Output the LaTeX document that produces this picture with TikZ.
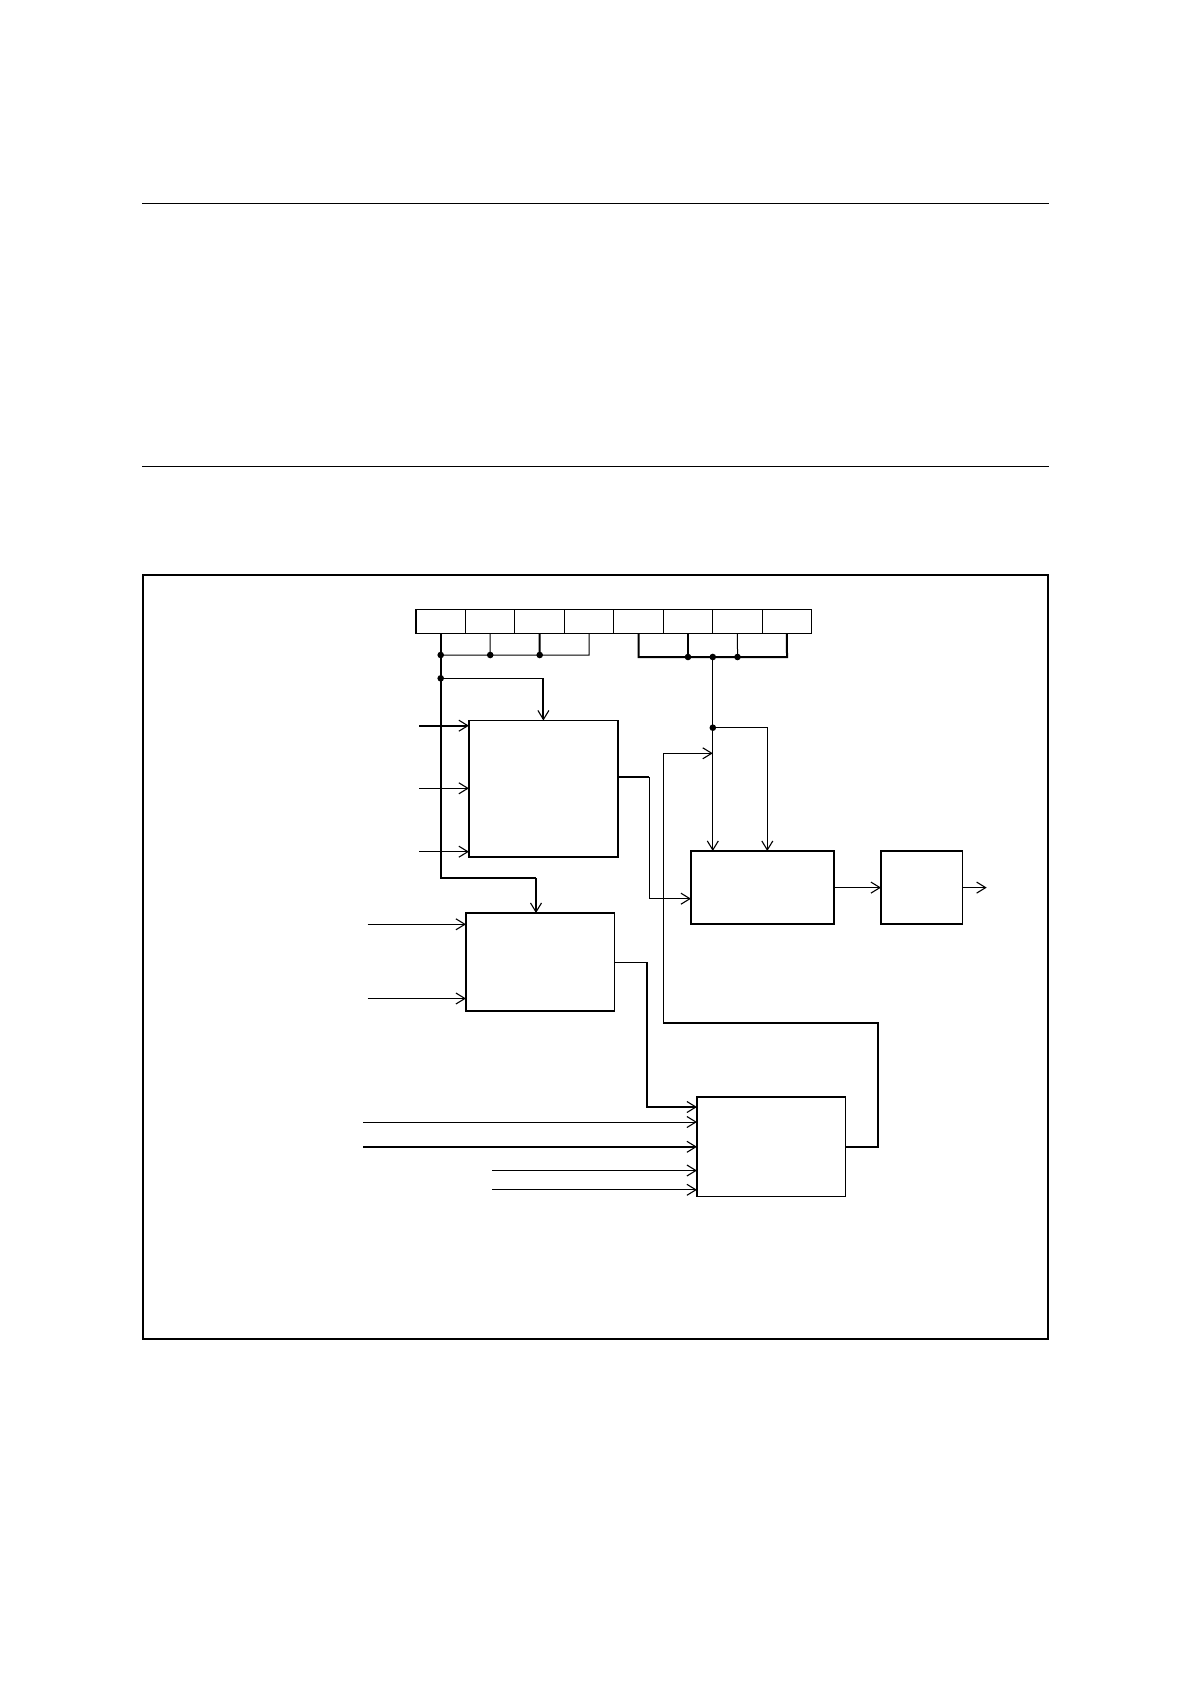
\documentclass[tikz,border=0pt]{standalone}
\usetikzlibrary{arrows.meta}
\begin{document}
\begin{tikzpicture}[x=0.5pt,y=-0.5pt,line width=0.5pt]
\tikzstyle{blk}=[draw,rectangle,line width=0.8pt,inner sep=0pt,outer sep=0pt]
\tikzstyle{cell}=[draw,rectangle,line width=0.55pt,inner sep=0pt,outer sep=0pt,minimum width=24.73pt,minimum height=12.15pt]
\tikzstyle{dot}=[circle,fill=black,inner sep=0pt,minimum size=3.3pt]
\tikzstyle{bus}=[line width=1pt]
\tikzset{>={Straight Barb[length=4.5pt,width=5.5pt,line width=0.55pt]}}
\useasboundingbox (0,0) rectangle (1190,1684);
% rules and frame
\draw (142,204) -- (1049,204);
\draw (142,466) -- (1049,466);
\draw[line width=0.9pt] (143,575) rectangle (1048,1339);
% register
\foreach \i in {0,...,7} \node[cell] (r\i) at ({440.7+49.46*\i},621.2) {};
% blocks
\node[blk,minimum width=74.5pt,minimum height=68.1pt] (b1) at (543.4,788.6) {};
\node[blk,minimum width=74.25pt,minimum height=49.1pt] (b2) at (540.2,962.1) {};
\node[blk,minimum width=71.5pt,minimum height=36.6pt] (b3) at (762.5,887.6) {};
\node[blk,minimum width=40.8pt,minimum height=36.6pt] (b4) at (921.8,887.6) {};
\node[blk,minimum width=74.25pt,minimum height=49.55pt] (b5) at (771.2,1146.8) {};
% junctions and bends
\coordinate (t0) at (440.7,655);
\coordinate (t1) at (490.2,655);
\coordinate (t2) at (539.7,655);
\coordinate (t3) at (589.1,655);
\coordinate (u4) at (638.6,657);
\coordinate (u5) at (688,657);
\coordinate (jR) at (712.8,657);
\coordinate (u6) at (737.5,657);
\coordinate (u7) at (787,657);
\coordinate (dL) at (440.7,678.3);
\coordinate (kL) at (440.7,878.3);
\coordinate (kL2) at (536,878.3);
\coordinate (dR) at (712.8,727.7);
\coordinate (kR) at (767.3,727.7);
\coordinate (o1) at (619.3,777);
\coordinate (k1) at (649.3,777);
\coordinate (k2) at (649.3,898.7);
\coordinate (o4) at (986.7,887.6);
\coordinate (k4) at (878,1022.7);
\coordinate (k5) at (663.3,1022.7);
\coordinate (k6) at (646.7,1107);
\coordinate (k7) at (663.3,753.3);
% inputs
\coordinate (i1) at (419,725.7);
\coordinate (i2) at (419,788.3);
\coordinate (i3) at (419,851.7);
\coordinate (i4) at (367.6,924.3);
\coordinate (i5) at (367.6,998.5);
\coordinate (i6) at (363.3,1122);
\coordinate (i7) at (363.3,1146.8);
\coordinate (i8) at (492.3,1170.5);
\coordinate (i9) at (492.3,1189.8);
% register taps
\draw[bus] (r0.south) -- (kL) -- (kL2);
\draw[bus,->] (kL2) -- (kL2 |- b2.north);
\draw (r1.south) -- (t1);
\draw[bus] (r2.south) -- (t2);
\draw (t0) -- (t3) -- (r3.south);
\draw (dL) -- (dL -| b1.north);
\draw[bus,->] (dL -| b1.north) -- (b1.north);
\draw[bus] (r4.south) -- (u4) -- (u7) -- (r7.south);
\draw[bus] (r5.south) -- (u5);
\draw (r6.south) -- (u6);
\draw[->] (jR) -- (jR |- b3.north);
\draw[->] (dR) -- (kR) -- (kR |- b3.north);
\foreach \p in {t0,t1,t2,dL,u5,jR,u6,dR} \node[dot] (n\p) at (\p) {};
% block 1
\draw[bus,->] (i1) -- (i1 -| b1.west);
\draw[->] (i2) -- (i2 -| b1.west);
\draw[->] (i3) -- (i3 -| b1.west);
\draw[bus] (o1) -- (k1);
\draw[->] (k1) -- (k2) -- (k2 -| b3.west);
% blocks 3 and 4
\draw[->] (b3) -- (b4);
\draw[->] (b4) -- (o4);
% block 2
\draw[->] (i4) -- (i4 -| b2.west);
\draw[->] (i5) -- (i5 -| b2.west);
\draw (b2.east) -- (b2.east -| k6);
\draw[bus,->] (b2.east -| k6) -- (k6) -- (k6 -| b5.west);
% block 5
\draw[->] (i6) -- (i6 -| b5.west);
\draw[bus,->] (i7) -- (i7 -| b5.west);
\draw[->] (i8) -- (i8 -| b5.west);
\draw[->] (i9) -- (i9 -| b5.west);
\draw[bus] (b5.east) -| (k4) -- (k5);
\draw[->] (k5) -- (k7) -- (k7 -| jR);
\end{tikzpicture}
\end{document}
